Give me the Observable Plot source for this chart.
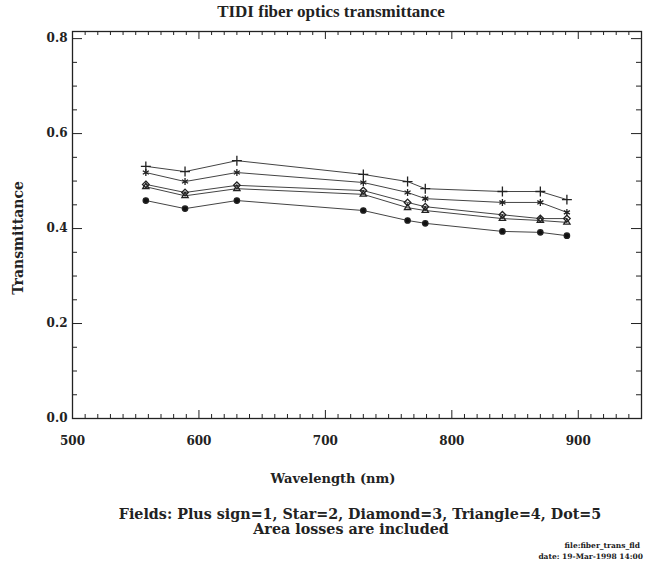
<!DOCTYPE html>
<html>
<head>
<meta charset="utf-8">
<script src="https://cdn.jsdelivr.net/npm/d3@7"></script>
<script src="https://cdn.jsdelivr.net/npm/@observablehq/plot@0.6"></script>
<style>
  html, body { margin: 0; padding: 0; background: #fff; }
  #wrap { position: relative; width: 645px; height: 562px; overflow: hidden; font-family: "DejaVu Serif", serif; color: #222; }
  .t { position: absolute; white-space: nowrap; font-weight: bold; }
  #title { top: 2px; left: 0; width: 662px; text-align: center; font-size: 17px; font-family: "Liberation Serif", serif; }
  #cap1 { top: 506px; left: 0; width: 720px; text-align: center; font-size: 14.3px; }
  #cap2 { top: 521px; left: 0; width: 702px; text-align: center; font-size: 14.3px; }
  #xlab { top: 471px; left: 0; width: 666px; text-align: center; font-size: 13px; }
  #ylab { left: 18px; top: 238px; font-size: 14px; transform: translate(-50%, -50%) rotate(-90deg); }
  #foot1 { top: 541px; right: 5px; font-size: 7.5px; }
  #foot2 { top: 552px; right: 2px; font-size: 7.5px; }
  #chart { position: absolute; top: 0; left: 0; }
</style>
</head>
<body>
<div id="wrap">
  <div id="chart"></div>
  <div id="title" class="t">TIDI fiber optics transmittance</div>
  <div id="xlab" class="t">Wavelength (nm)</div>
  <div id="ylab" class="t">Transmittance</div>
  <div id="cap1" class="t">Fields: Plus sign=1, Star=2, Diamond=3, Triangle=4, Dot=5</div>
  <div id="cap2" class="t">Area losses are included</div>
  <div id="foot1" class="t">file:fiber_trans_fld</div>
  <div id="foot2" class="t">date: 19-Mar-1998 14:00</div>
</div>
<script>
// ---- data ----
const wavelengths = [558, 589, 630, 730, 765, 779, 840, 870, 891];
const plusSign = [0.531, 0.520, 0.543, 0.514, 0.499, 0.484, 0.478, 0.478, 0.461];
const star     = [0.518, 0.499, 0.518, 0.497, 0.476, 0.463, 0.455, 0.455, 0.434];
const diamond  = [0.493, 0.476, 0.491, 0.480, 0.455, 0.446, 0.429, 0.421, 0.421];
const triangle = [0.488, 0.469, 0.484, 0.472, 0.444, 0.438, 0.421, 0.417, 0.413];
const dot      = [0.459, 0.442, 0.459, 0.438, 0.417, 0.411, 0.394, 0.392, 0.385];
const xTickLabels = [500, 600, 700, 800, 900];
const yTickLabels = [0.0, 0.2, 0.4, 0.6, 0.8];
const xMinorTicks = d3.range(510, 950, 10).filter(v => v % 100 !== 0);
const yMinorTicks = [0.05, 0.1, 0.15, 0.25, 0.3, 0.35, 0.45, 0.5, 0.55, 0.65, 0.7, 0.75];

const seriesDefs = [
  {name: "Plus sign", values: plusSign, symbol: "plus", fill: "none", r: 3.3},
  {name: "Star", values: star, symbol: "asterisk", fill: "none", r: 3.3},
  {name: "Diamond", values: diamond, symbol: "diamond2", fill: "none", r: 3},
  {name: "Triangle", values: triangle, symbol: "triangle2", fill: "none", r: 3},
  {name: "Dot", values: dot, symbol: "circle", fill: "#111", r: 2.7}
];
const rows = seriesDefs.flatMap(s => wavelengths.map((w, i) => ({series: s.name, x: w, y: s.values[i]})));

const W = 645, H = 500;
const mL = 72, mR = 4, mT = 31, mB = 82;
const pw = W - mL - mR, ph = H - mT - mB;
const ink = "#222";
const majLen = 8, minLen = 4, majLenY = 10, minLenY = 5;
const font = "'DejaVu Serif', serif";

const marks = [
  Plot.frame({stroke: ink, strokeWidth: 1.3}),
  // x ticks bottom & top
  Plot.tickX(xTickLabels, {x: d => d, stroke: ink, insetTop: ph - majLen}),
  Plot.tickX(xMinorTicks, {x: d => d, stroke: ink, insetTop: ph - minLen}),
  Plot.tickX(xTickLabels, {x: d => d, stroke: ink, insetBottom: ph - majLen}),
  Plot.tickX(xMinorTicks, {x: d => d, stroke: ink, insetBottom: ph - minLen}),
  // y ticks left & right
  Plot.tickY(yTickLabels, {y: d => d, stroke: ink, insetRight: pw - majLenY}),
  Plot.tickY(yMinorTicks, {y: d => d, stroke: ink, insetRight: pw - minLenY}),
  Plot.tickY(yTickLabels, {y: d => d, stroke: ink, insetLeft: pw - majLenY}),
  Plot.tickY(yMinorTicks, {y: d => d, stroke: ink, insetLeft: pw - minLenY}),
  Plot.axisX(xTickLabels, {anchor: "bottom", tickSize: 0, tickPadding: 18, tickFormat: d => String(d),
    fontSize: 12, fontWeight: "bold", fill: ink, label: null}),
  Plot.axisY(yTickLabels, {anchor: "left", tickSize: 0, tickPadding: 5, tickFormat: d3.format(".1f"),
    fontSize: 12, fontWeight: "bold", fill: ink, label: null}),
  Plot.lineY(rows, {x: "x", y: "y", z: "series", stroke: "#444", strokeWidth: 1})
];
for (const s of seriesDefs) {
  marks.push(Plot.dot(rows.filter(d => d.series === s.name), {
    x: "x", y: "y", symbol: () => s.symbol, r: s.r,
    stroke: ink, strokeWidth: 1.3, fill: s.fill
  }));
}

const chart = Plot.plot({
  width: W, height: H,
  marginLeft: mL, marginRight: mR, marginTop: mT, marginBottom: mB,
  style: {fontFamily: font, background: "#fff", color: ink},
  x: {domain: [500, 950], label: null, axis: null},
  y: {domain: [0, 0.815], label: null, axis: null},
  symbol: {type: "identity"},
  marks
});
document.getElementById("chart").append(chart);
</script>
</body>
</html>
